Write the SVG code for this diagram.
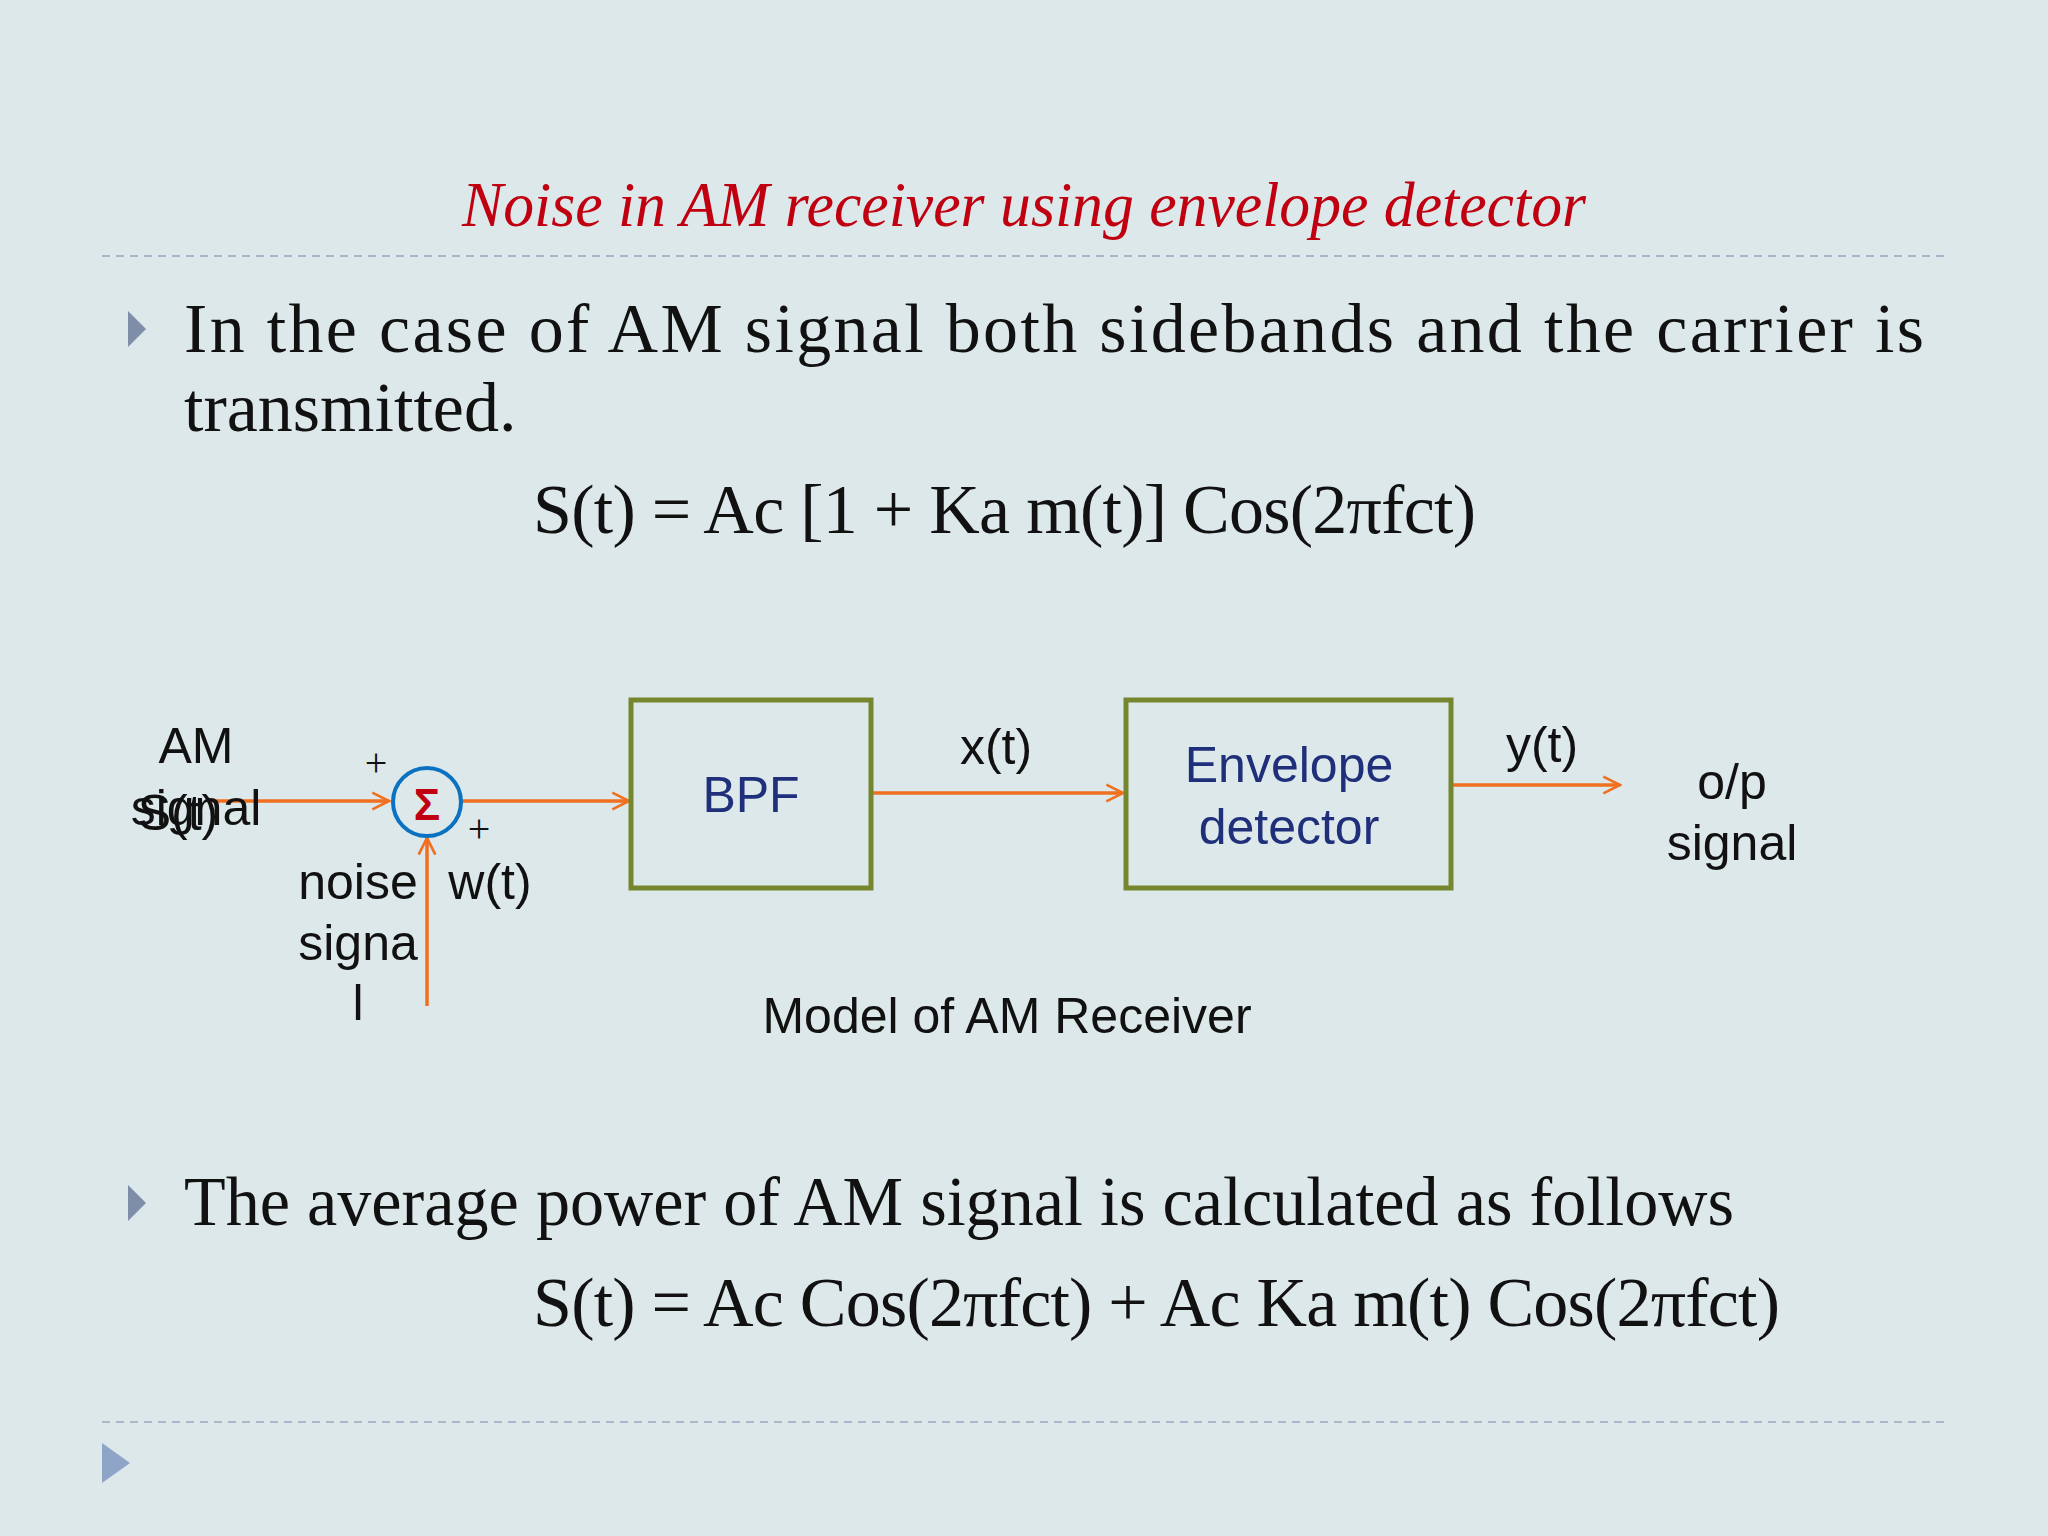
<svg xmlns="http://www.w3.org/2000/svg" width="2048" height="1536" viewBox="0 0 2048 1536">
<defs>
<style>
.body{font-family:"Liberation Serif",serif;font-size:70px;fill:#111}
.d{font-family:"Liberation Sans",Arial,sans-serif;font-size:50px;fill:#111;text-anchor:middle}
.db{font-family:"Liberation Sans",Arial,sans-serif;font-size:50px;fill:#1f2f7a;text-anchor:middle}
.ar{stroke:#f07020;stroke-width:3.5;fill:none;marker-end:url(#ah)}
.box{fill:none;stroke:#76862f;stroke-width:5}
.dash{stroke:#a8b8cc;stroke-width:2;stroke-dasharray:8 6}
.bul{fill:#7f8ea8}
</style>
<marker id="ah" viewBox="0 0 12 12" refX="11" refY="6" markerWidth="20" markerHeight="20" orient="auto" markerUnits="userSpaceOnUse">
<path d="M1,1 L11,6 L1,11" fill="none" stroke="#f07020" stroke-width="1.6"/>
</marker>
</defs>
<rect width="2048" height="1536" fill="#dde8ea"/>
<text x="1024" y="226" text-anchor="middle" font-family="Liberation Serif,serif" font-style="italic" font-size="64" fill="#c00010" textLength="1124" lengthAdjust="spacingAndGlyphs">Noise in AM receiver using envelope detector</text>
<line class="dash" x1="102" y1="256" x2="1946" y2="256"/>
<polygon class="bul" points="128,311 146,329 128,347"/>
<text class="body" x="184" y="352" textLength="1740" lengthAdjust="spacing">In the case of AM signal both sidebands and the carrier is</text>
<text class="body" x="184" y="431">transmitted.</text>
<text class="body" x="533" y="533" textLength="943" lengthAdjust="spacing">S(t) = Ac [1 + Ka m(t)] Cos(2πfct)</text>
<g id="connectors">
<line class="ar" x1="209" y1="801" x2="389" y2="801"/>
<line class="ar" x1="461" y1="801" x2="629" y2="801"/>
<line class="ar" x1="427" y1="1006" x2="427" y2="838"/>
<line class="ar" x1="871" y1="793" x2="1123" y2="793"/>
<line class="ar" x1="1451" y1="785" x2="1620" y2="785"/>
</g>
<g id="input">
<text class="d" x="196" y="763">AM</text>
<text class="d" x="196" y="825">signal</text>
<text class="d" x="178" y="830">S(t)</text>
</g>
<g id="sum">
<circle cx="427" cy="802" r="34" fill="none" stroke="#0a72c0" stroke-width="4"/>
<text x="427" y="820" text-anchor="middle" font-family="Liberation Sans,sans-serif" font-weight="bold" font-size="44" fill="#c00010">Σ</text>
<text x="376" y="776" text-anchor="middle" font-family="Liberation Serif,serif" font-size="40" fill="#111">+</text>
<text x="479" y="842" text-anchor="middle" font-family="Liberation Serif,serif" font-size="40" fill="#111">+</text>
</g>
<g id="noise">
<text class="d" x="358" y="899">noise</text>
<text class="d" x="358" y="960">signa</text>
<text class="d" x="358" y="1020">l</text>
<text class="d" x="490" y="899">w(t)</text>
</g>
<g id="bpf">
<rect class="box" x="631" y="700" width="240" height="188"/>
<text class="db" x="751" y="812">BPF</text>
</g>
<text class="d" x="996" y="764">x(t)</text>
<g id="env">
<rect class="box" x="1126" y="700" width="325" height="188"/>
<text class="db" x="1289" y="782">Envelope</text>
<text class="db" x="1289" y="844">detector</text>
</g>
<text class="d" x="1542" y="762">y(t)</text>
<g id="output">
<text class="d" x="1732" y="799">o/p</text>
<text class="d" x="1732" y="860">signal</text>
</g>
<text class="d" x="1007" y="1033">Model of AM Receiver</text>
<polygon class="bul" points="128,1185 146,1203 128,1221"/>
<text class="body" x="184" y="1225" textLength="1550" lengthAdjust="spacingAndGlyphs">The average power of AM signal is calculated as follows</text>
<text class="body" x="533" y="1326" textLength="1247" lengthAdjust="spacing">S(t) = Ac Cos(2πfct) + Ac Ka m(t) Cos(2πfct)</text>
<line class="dash" x1="102" y1="1422" x2="1946" y2="1422"/>
<polygon points="102,1443 130,1463 102,1483" fill="#8fa5c8"/>
</svg>
